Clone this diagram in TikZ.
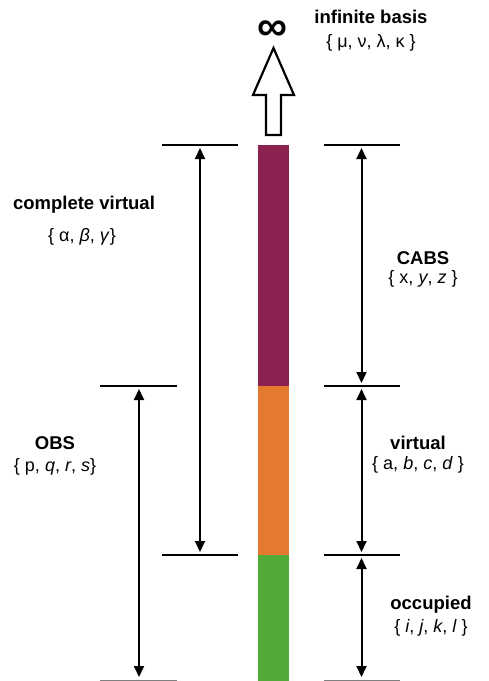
\documentclass[tikz,border=0pt]{standalone}
\usepackage{fontspec}
\setmainfont{Liberation Sans}
\usetikzlibrary{arrows.meta}
\definecolor{cabs}{RGB}{139,34,82}
\definecolor{virt}{RGB}{228,122,48}
\definecolor{occ}{RGB}{82,170,54}
\begin{document}
\begin{tikzpicture}[x=1pt,y=-1pt,
  lvl/.style={line width=2.4pt},
  span/.style={line width=2pt,{Triangle[length=11pt,width=10pt]}-{Triangle[length=11pt,width=10pt]}},
  ttl/.style={font=\fontsize{18.5}{20}\selectfont\bfseries,inner sep=0pt},
  idx/.style={font=\fontsize{18}{20}\selectfont,inner sep=0pt}]
\useasboundingbox (0,0) rectangle (489,681);
% bar
\fill[cabs] (258,145) rectangle (289,386);
\fill[virt] (258,386) rectangle (289,555);
\fill[occ] (258,555) rectangle (289,681);
% open arrow
\draw[line width=2.2pt,fill=white] (266,135) -- (266,95) -- (253,95) -- (273.5,48) -- (294,95) -- (281,95) -- (281,135) -- cycle;
\node[font=\fontsize{42}{42}\selectfont\bfseries,inner sep=0pt,text height=12pt,text depth=0pt,anchor=base] (inf) at (272,40) {∞};
% levels
\coordinate (tl1) at (162,145); \coordinate (tl2) at (238,145);
\coordinate (tr1) at (324,145); \coordinate (tr2) at (400,145);
\coordinate (ml1) at (100,386); \coordinate (ml2) at (177,386);
\coordinate (mr1) at (324,386); \coordinate (mr2) at (400,386);
\coordinate (ll1) at (162,555); \coordinate (ll2) at (238,555);
\coordinate (lr1) at (324,555); \coordinate (lr2) at (400,555);
\coordinate (bl1) at (100,680); \coordinate (bl2) at (177,680);
\coordinate (br1) at (324,680); \coordinate (br2) at (400,680);
\draw[lvl] (tl1) -- (tl2);
\draw[lvl] (tr1) -- (tr2);
\draw[lvl] (ml1) -- (ml2);
\draw[lvl] (mr1) -- (mr2);
\draw[lvl] (ll1) -- (ll2);
\draw[lvl] (lr1) -- (lr2);
\draw[gray,line width=1pt] (bl1) -- (bl2);
\draw[gray,line width=1pt] (br1) -- (br2);
% spans
\coordinate (cvT) at (200,148); \coordinate (cvB) at (200,552);
\coordinate (obT) at (139,389); \coordinate (obB) at (139,677);
\coordinate (caT) at (361.5,148); \coordinate (caB) at (361.5,383);
\coordinate (viT) at (361.5,389); \coordinate (viB) at (361.5,552);
\coordinate (ocT) at (361.5,558); \coordinate (ocB) at (361.5,677);
\draw[span] (cvT) -- (cvB);
\draw[span] (obT) -- (obB);
\draw[span] (caT) -- (caB);
\draw[span] (viT) -- (viB);
\draw[span] (ocT) -- (ocB);
% labels
\node[ttl] (ib) at (371,17) {infinite basis};
\node[idx] (ibi) at (371,43) {\{ μ, ν, λ, κ \}};
\node[ttl] (cv) at (84,205) {complete virtual};
\node[idx] (cvi) at (82,237) {\{ α, \textit{β}, \textit{γ}\}};
\node[ttl] (ob) at (55,443) {OBS};
\node[idx] (obi) at (55,467) {\{ p, \textit{q}, \textit{r}, \textit{s}\}};
\node[ttl] (ca) at (423,258) {CABS};
\node[idx] (cai) at (423,279) {\{ x, \textit{y}, \textit{z} \}};
\node[ttl] (vi) at (418,443) {virtual};
\node[idx] (vii) at (418,465) {\{ a, \textit{b}, \textit{c}, \textit{d} \}};
\node[ttl] (oc) at (431,605) {occupied};
\node[idx] (oci) at (431,628) {\{ \textit{i}, \textit{j}, \textit{k}, \textit{l} \}};
\end{tikzpicture}
\end{document}
